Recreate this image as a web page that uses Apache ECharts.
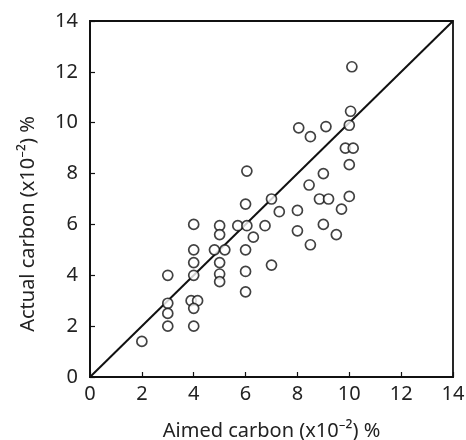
<!DOCTYPE html>
<html><head><meta charset="utf-8">
<script src="https://cdn.jsdelivr.net/npm/echarts@6/dist/echarts.min.js"></script>
<style>html,body{margin:0;padding:0;background:#fff}#c{width:466px;height:440px}</style>
</head><body><div id="c"></div>
<script>
const aimed = [2, 3, 3, 3, 3, 4, 4, 4, 4, 3.9, 4.15, 4, 4,
  5, 5, 4.8, 5.2, 5, 5, 5, 5.7, 6.05, 6, 6, 6, 6, 6.05, 6.75, 6.3, 7, 7.3, 7,
  10.1, 10.05, 10, 8.05, 8.5, 9.1, 9.85, 10.15, 10, 9, 8.45, 8.85, 9.2, 10,
  8, 8, 9.7, 9, 9.5, 8.5];
const actual = [1.4, 4.0, 2.9, 2.5, 2.0, 6.0, 5.0, 4.5, 4.0, 3.0, 3.0, 2.7, 2.0,
  5.95, 5.6, 5.0, 5.0, 4.5, 4.05, 3.75, 5.95, 5.95, 6.8, 5.0, 4.15, 3.35, 8.1, 5.95, 5.5, 7.0, 6.5, 4.4,
  12.2, 10.45, 9.9, 9.8, 9.45, 9.85, 9.0, 9.0, 8.35, 8.0, 7.55, 7.0, 7.0, 7.1,
  6.55, 5.75, 6.6, 6.0, 5.6, 5.2];
const lineX = [0, 14];
const lineY = [0, 14];
const ticks = [0, 2, 4, 6, 8, 10, 12, 14];

const pts = aimed.map((v, i) => [v, actual[i]]);
const font = 'Noto Sans';
const chart = echarts.init(document.getElementById('c'));
chart.setOption({
  animation: false,
  grid: {left: 90, top: 21, width: 363, height: 356, show: true, borderColor: '#111', borderWidth: 1.8,
         containLabel: false, outerBoundsMode: 'none'},
  xAxis: {
    type: 'value', min: ticks[0], max: ticks[ticks.length - 1], interval: 2,
    name: 'Aimed carbon (x10⁻²) %', nameLocation: 'middle', nameGap: 44,
    nameTextStyle: {fontFamily: font, fontSize: 20, color: '#222'},
    axisLine: {show: true, lineStyle: {color: '#111', width: 1.8}},
    axisTick: {show: true, inside: true, length: 5, lineStyle: {color: '#111', width: 1.2}},
    axisLabel: {fontFamily: font, fontSize: 20, color: '#222', margin: 7},
    splitLine: {show: false}
  },
  yAxis: {
    type: 'value', min: ticks[0], max: ticks[ticks.length - 1], interval: 2,
    name: 'Actual carbon (x10⁻²) %', nameLocation: 'middle', nameGap: 52,
    nameTextStyle: {fontFamily: font, fontSize: 20, color: '#222', padding: [0, 50, 0, 0]},
    axisLine: {show: true, lineStyle: {color: '#111', width: 1.8}},
    axisTick: {show: true, inside: true, length: 5, lineStyle: {color: '#111', width: 1.2}},
    axisLabel: {fontFamily: font, fontSize: 20, color: '#222', margin: 12},
    splitLine: {show: false}
  },
  series: [
    {type: 'line', data: lineX.map((v, i) => [v, lineY[i]]), symbol: 'none',
     lineStyle: {color: '#111', width: 2}, z: 1},
    {type: 'scatter', data: pts, symbol: 'circle', symbolSize: 10,
     itemStyle: {color: '#fff', borderColor: '#111', borderWidth: 1.7}, z: 3}
  ]
});
</script></body></html>
